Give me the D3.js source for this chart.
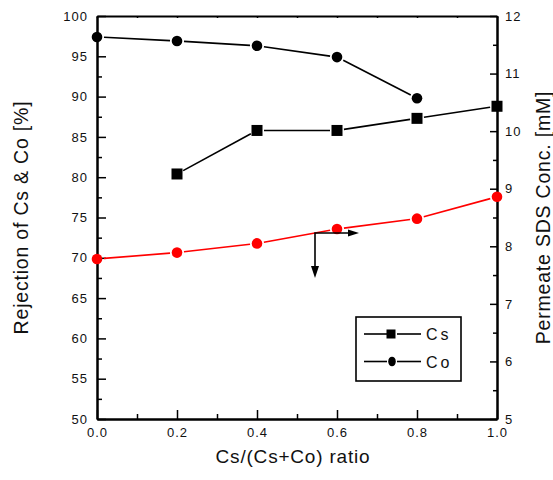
<!DOCTYPE html>
<html>
<head>
<meta charset="utf-8">
<script src="https://cdn.jsdelivr.net/npm/d3@7"></script>
<style>
  body { margin: 0; background: #fff; }
  text { font-family: "Liberation Sans", Arial, sans-serif; fill: #111; }
</style>
</head>
<body>
<div id="wrapper"></div>
<script>
// data
const ratios = [0.0, 0.2, 0.4, 0.6, 0.8, 1.0]
const csRatios = [0.2, 0.4, 0.6, 0.8, 1.0]
const csRejection = [80.4, 85.8, 85.8, 87.3, 88.8]
const coRatios = [0.0, 0.2, 0.4, 0.6, 0.8]
const coRejection = [97.4, 96.9, 96.3, 94.9, 89.8]
const sdsConc = [7.78, 7.89, 8.05, 8.30, 8.48, 8.86]

const xTicks = [0, 0.2, 0.4, 0.6, 0.8, 1.0]
const leftTicks = [50, 55, 60, 65, 70, 75, 80, 85, 90, 95, 100]
const rightTicks = [5, 6, 7, 8, 9, 10, 11, 12]
const legendLabels = ["Cs", "Co"]

// arrow annotation (data units: x ratio, right axis value)
const arrowCorner = [0.545, 8.23]
const arrowRightX = 0.655
const arrowDownY = 7.45

// dimensions
let dimensions = {
  width: 553,
  height: 480,
  margins: { top: 16, right: 56, bottom: 61, left: 97 }
}
dimensions.boundedWidth = dimensions.width - dimensions.margins.left - dimensions.margins.right
dimensions.boundedHeight = dimensions.height - dimensions.margins.top - dimensions.margins.bottom

const wrapper = d3.select("#wrapper")
  .append("svg")
  .attr("width", dimensions.width)
  .attr("height", dimensions.height)

const bounds = wrapper.append("g")
  .attr("transform", `translate(${dimensions.margins.left},${dimensions.margins.top})`)

// scales
const xScale = d3.scaleLinear().domain([0, 1]).range([0, dimensions.boundedWidth])
const yLeft = d3.scaleLinear().domain([50, 100]).range([dimensions.boundedHeight, 0])
const yRight = d3.scaleLinear().domain([5, 12]).range([dimensions.boundedHeight, 0])

const minor = (ticks) => ticks.slice(0, -1).map((t, i) => (t + ticks[i + 1]) / 2)

// axes
const styleAxis = (g) => {
  g.select(".domain").attr("stroke", "#000").attr("stroke-width", 2)
  g.selectAll(".tick line").attr("stroke", "#000").attr("stroke-width", 1.5)
  g.selectAll(".tick text")
    .style("font-size", "13px")
    .style("letter-spacing", "1px")
    .attr("fill", "#111")
}

// bottom
bounds.append("g")
  .attr("transform", `translate(0,${dimensions.boundedHeight})`)
  .call(d3.axisBottom(xScale).tickValues(xTicks).tickFormat(d3.format(".1f"))
    .tickSizeInner(-9).tickSizeOuter(0).tickPadding(9))
  .call(styleAxis)
bounds.append("g")
  .attr("transform", `translate(0,${dimensions.boundedHeight})`)
  .call(d3.axisBottom(xScale).tickValues(minor(xTicks)).tickFormat("")
    .tickSizeInner(-5).tickSizeOuter(0))
  .call(styleAxis)

// top
bounds.append("g")
  .call(d3.axisTop(xScale).tickValues(d3.range(0, 1.01, 0.1)).tickFormat("")
    .tickSizeInner(-2).tickSizeOuter(0))
  .call(styleAxis)

// left
bounds.append("g")
  .call(d3.axisLeft(yLeft).tickValues(leftTicks).tickFormat(d3.format("d"))
    .tickSizeInner(-9).tickSizeOuter(0).tickPadding(9))
  .call(styleAxis)
bounds.append("g")
  .call(d3.axisLeft(yLeft).tickValues(minor(leftTicks)).tickFormat("")
    .tickSizeInner(-5).tickSizeOuter(0))
  .call(styleAxis)

// right
bounds.append("g")
  .attr("transform", `translate(${dimensions.boundedWidth},0)`)
  .call(d3.axisRight(yRight).tickValues(rightTicks).tickFormat(d3.format("d"))
    .tickSizeInner(-7).tickSizeOuter(0).tickPadding(8))
  .call(styleAxis)
bounds.append("g")
  .attr("transform", `translate(${dimensions.boundedWidth},0)`)
  .call(d3.axisRight(yRight).tickValues(minor(rightTicks)).tickFormat("")
    .tickSizeInner(-4).tickSizeOuter(0))
  .call(styleAxis)

// axis titles
wrapper.append("text")
  .attr("x", dimensions.margins.left + dimensions.boundedWidth / 2 - 4)
  .attr("y", 463)
  .attr("text-anchor", "middle")
  .style("font-size", "19px")
  .style("letter-spacing", "0.8px")
  .text("Cs/(Cs+Co) ratio")

wrapper.append("text")
  .attr("transform", `translate(28,${dimensions.margins.top + dimensions.boundedHeight / 2}) rotate(-90)`)
  .attr("text-anchor", "middle")
  .style("font-size", "19.5px")
  .style("letter-spacing", "0.8px")
  .text("Rejection of Cs & Co [%]")

wrapper.append("text")
  .attr("transform", `translate(550,${dimensions.margins.top + dimensions.boundedHeight / 2}) rotate(-90)`)
  .attr("text-anchor", "middle")
  .style("font-size", "19.5px")
  .style("letter-spacing", "0.8px")
  .text("Permeate SDS Conc. [mM]")

// lines with a gap around each marker
const gap = 7
const drawGapLine = (xs, ys, yScale, color) => {
  const pts = xs.map((x, i) => [xScale(x), yScale(ys[i])])
  const segs = d3.pairs(pts).map(([a, b]) => {
    const dx = b[0] - a[0], dy = b[1] - a[1]
    const len = Math.hypot(dx, dy)
    const ux = dx / len, uy = dy / len
    return [a[0] + ux * gap, a[1] + uy * gap, b[0] - ux * gap, b[1] - uy * gap]
  })
  bounds.append("g").selectAll("line")
    .data(segs)
    .join("line")
    .attr("x1", d => d[0]).attr("y1", d => d[1])
    .attr("x2", d => d[2]).attr("y2", d => d[3])
    .attr("stroke", color)
    .attr("stroke-width", 1.6)
}

drawGapLine(coRatios, coRejection, yLeft, "#000")
drawGapLine(csRatios, csRejection, yLeft, "#000")
drawGapLine(ratios, sdsConc, yRight, "#ff0000")

// markers
bounds.append("g").selectAll("circle")
  .data(coRatios)
  .join("circle")
  .attr("cx", d => xScale(d))
  .attr("cy", (d, i) => yLeft(coRejection[i]))
  .attr("r", 5.3)
  .attr("fill", "#000")

bounds.append("g").selectAll("rect")
  .data(csRatios)
  .join("rect")
  .attr("x", d => xScale(d) - 5.5)
  .attr("y", (d, i) => yLeft(csRejection[i]) - 5.5)
  .attr("width", 11)
  .attr("height", 11)
  .attr("fill", "#000")

bounds.append("g").selectAll("circle")
  .data(ratios)
  .join("circle")
  .attr("cx", d => xScale(d))
  .attr("cy", (d, i) => yRight(sdsConc[i]))
  .attr("r", 5.3)
  .attr("fill", "#ff0000")

// arrow annotation
const cx = xScale(arrowCorner[0]), cy = yRight(arrowCorner[1])
const rx = xScale(arrowRightX), dy = yRight(arrowDownY)
const arrow = bounds.append("g")
arrow.append("path")
  .attr("d", `M${rx - 9},${cy} L${cx},${cy} L${cx},${dy - 11}`)
  .attr("fill", "none")
  .attr("stroke", "#000")
  .attr("stroke-width", 1.6)
arrow.append("path")
  .attr("d", `M${rx},${cy} L${rx - 11},${cy - 3.5} L${rx - 11},${cy + 3.5} Z`)
  .attr("fill", "#000")
arrow.append("path")
  .attr("d", `M${cx},${dy} L${cx - 4},${dy - 12} L${cx + 4},${dy - 12} Z`)
  .attr("fill", "#000")

// legend
const legend = wrapper.append("g").attr("transform", "translate(356,317)")
legend.append("rect")
  .attr("width", 105)
  .attr("height", 64)
  .attr("fill", "#fff")
  .attr("stroke", "#000")
  .attr("stroke-width", 1.6)

const legendRow = legend.selectAll("g.row")
  .data(legendLabels)
  .join("g")
  .attr("class", "row")
  .attr("transform", (d, i) => `translate(0,${17 + i * 27.5})`)

legendRow.append("line")
  .attr("x1", 8).attr("x2", 31).attr("y1", 0).attr("y2", 0)
  .attr("stroke", "#000").attr("stroke-width", 1.6)
legendRow.append("line")
  .attr("x1", 41).attr("x2", 65).attr("y1", 0).attr("y2", 0)
  .attr("stroke", "#000").attr("stroke-width", 1.6)
legendRow.filter((d, i) => i === 0).append("rect")
  .attr("x", 30.5).attr("y", -4.5).attr("width", 9).attr("height", 9)
  .attr("fill", "#000")
legendRow.filter((d, i) => i === 1).append("ellipse")
  .attr("cx", 36).attr("cy", 0).attr("rx", 3.8).attr("ry", 4.8)
  .attr("fill", "#000")
legendRow.append("text")
  .attr("x", 70)
  .attr("y", 6)
  .style("font-size", "16px")
  .style("letter-spacing", "3px")
  .text(d => d)
</script>
</body>
</html>
